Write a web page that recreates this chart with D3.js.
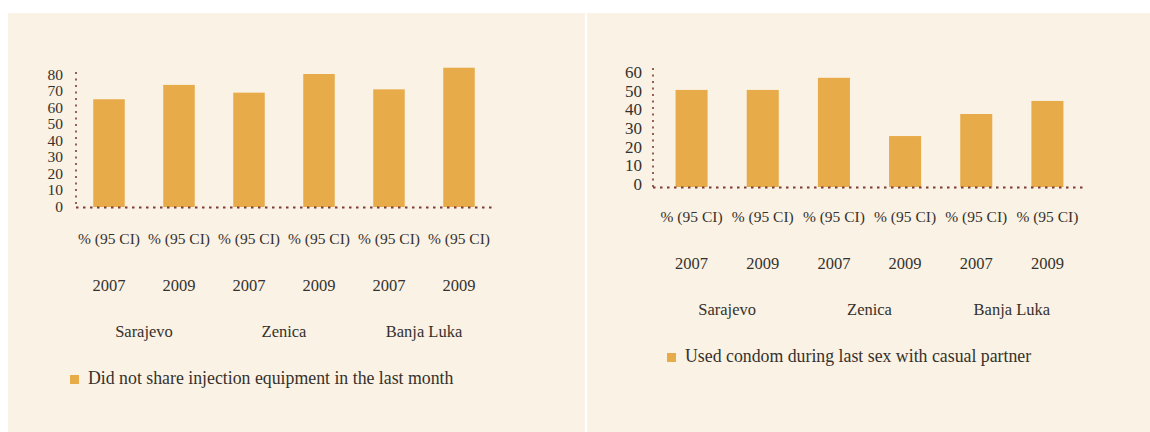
<!DOCTYPE html>
<html><head><meta charset="utf-8">
<script src="https://cdn.jsdelivr.net/npm/d3@7"></script>
<style>
html,body{margin:0;padding:0;background:#ffffff;}
svg{display:block;}
text{font-family:"Liberation Serif",serif;fill:#35312d;}
</style></head>
<body><svg id="c" width="1150" height="432"></svg>
<script>
const categories = ["Sarajevo 2007","Sarajevo 2009","Zenica 2007","Zenica 2009","Banja Luka 2007","Banja Luka 2009"];
const ciLabels = ["% (95 CI)","% (95 CI)","% (95 CI)","% (95 CI)","% (95 CI)","% (95 CI)"];
const yearLabels = ["2007","2009","2007","2009","2007","2009"];
const cityLabels = ["Sarajevo","Zenica","Banja Luka"];
const noSharing = [65.3, 74, 69.3, 80.6, 71.3, 84.4];
const condomUse = [52, 52, 58.5, 27.3, 39.1, 46.1];
const leftTicks = [0,10,20,30,40,50,60,70,80];
const rightTicks = [0,10,20,30,40,50,60];
const leftLegend = "Did not share injection equipment in the last month";
const rightLegend = "Used condom during last sex with casual partner";

const svg = d3.select("#c");
const bg = "#faf2e4", barColor = "#e8ab4a", axisColor = "#7d3a36";

svg.append("rect").attr("x",8).attr("y",13).attr("width",577).attr("height",419).attr("fill",bg);
svg.append("rect").attr("x",587).attr("y",13).attr("width",563).attr("height",419).attr("fill",bg);

function panel(o){
  const g = svg.append("g");
  const x = d3.scaleBand().domain(categories).range([o.x0,o.x1]).paddingInner(0.55).paddingOuter(0.275);
  const y = d3.scaleLinear().domain([0,o.ymax]).range([o.y0,o.ytop]);
  g.selectAll("rect.bar").data(o.values).join("rect")
    .attr("class","bar")
    .attr("x",(d,i)=>x(categories[i]))
    .attr("width",x.bandwidth())
    .attr("y",d=>y(d)).attr("height",d=>o.y0-y(d))
    .attr("fill",barColor);
  g.append("line").attr("x1",o.x0+o.yAxisDx).attr("x2",o.x0+o.yAxisDx)
    .attr("y1",o.yAxisTop).attr("y2",o.y0)
    .attr("stroke",axisColor).attr("stroke-width",1.6).attr("stroke-dasharray","2,4.5");
  g.append("line").attr("x1",o.x0+o.yAxisDx).attr("x2",o.x1)
    .attr("y1",o.y0+0.5).attr("y2",o.y0+0.5)
    .attr("stroke",axisColor).attr("stroke-width",1.8).attr("stroke-dasharray","2.5,4.5");
  g.selectAll("text.yt").data(o.ticks).join("text")
    .attr("class","yt")
    .attr("x",o.tickX).attr("y",d=>y(d)+o.tickDy)
    .attr("text-anchor","end").attr("dominant-baseline","middle")
    .style("font-size",o.tickSize).text(d=>d);
  g.selectAll("text.ci").data(ciLabels).join("text")
    .attr("class","ci")
    .attr("x",(d,i)=>x(categories[i])+x.bandwidth()/2).attr("y",o.rowCI)
    .attr("text-anchor","middle").attr("dominant-baseline","middle")
    .style("font-size","15.5px").text(d=>d);
  g.selectAll("text.yr").data(yearLabels).join("text")
    .attr("class","yr")
    .attr("x",(d,i)=>x(categories[i])+x.bandwidth()/2).attr("y",o.rowYear)
    .attr("text-anchor","middle").attr("dominant-baseline","middle")
    .style("font-size","16.5px").text(d=>d);
  g.selectAll("text.city").data(cityLabels).join("text")
    .attr("class","city")
    .attr("x",(d,i)=>(x(categories[2*i])+x(categories[2*i+1])+x.bandwidth())/2).attr("y",o.rowCity)
    .attr("text-anchor","middle").attr("dominant-baseline","middle")
    .style("font-size","16.5px").text(d=>d);
  g.append("rect").attr("x",o.legX).attr("y",o.legY-5).attr("width",9).attr("height",9).attr("fill",barColor);
  g.append("text").attr("x",o.legX+18).attr("y",o.legY)
    .attr("dominant-baseline","middle").style("font-size","17.8px").text(o.legend);
}

panel({x0:74,x1:494,yAxisDx:2,y0:207,ytop:75,ymax:80,yAxisTop:72,values:noSharing,ticks:leftTicks,tickSize:"15.5px",
  tickX:63,tickDy:1,rowCI:240,rowYear:287,rowCity:333,legX:70,legY:380,legend:leftLegend});
panel({x0:656,x1:1083,yAxisDx:-3,y0:187,ytop:75,ymax:60,yAxisTop:68,values:condomUse,ticks:rightTicks,tickSize:"17px",
  tickX:642,tickDy:-1,rowCI:218,rowYear:265,rowCity:311,legX:667,legY:358,legend:rightLegend});
</script></body></html>
